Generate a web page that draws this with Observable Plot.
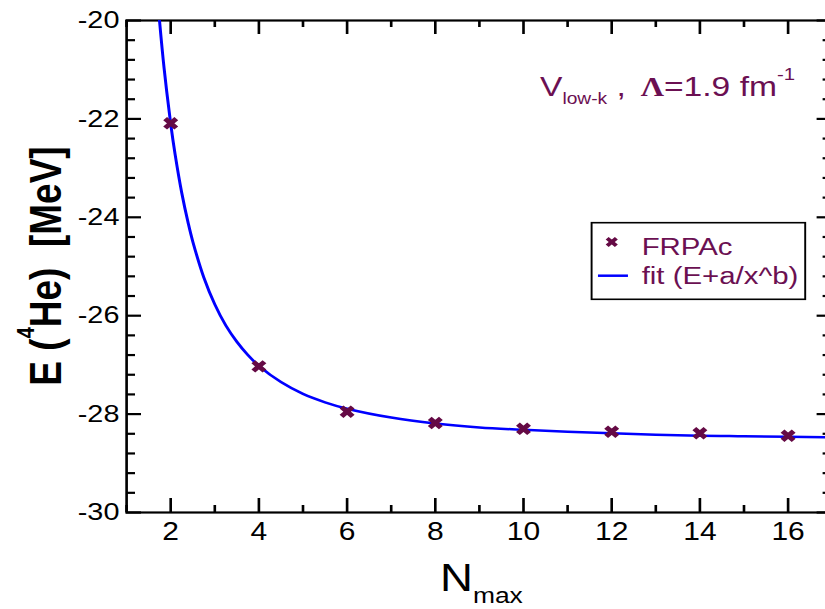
<!DOCTYPE html>
<html>
<head>
<meta charset="utf-8">
<script src="https://cdn.jsdelivr.net/npm/d3@7"></script>
<script src="https://cdn.jsdelivr.net/npm/@observablehq/plot@0.6"></script>
<style>
  html, body { margin: 0; padding: 0; background: white; overflow: hidden; }
  #chart svg { display: block; transform: scaleX(1.2); transform-origin: 0 0; max-width: none; }
</style>
</head>
<body>
<div id="chart"></div>
<script>
// FRPAc data points (N_max, E in MeV)
const nmax = [2, 4, 6, 8, 10, 12, 14, 16];
const energy = [-22.09, -27.03, -27.95, -28.18, -28.30, -28.36, -28.39, -28.44];

const fitX = [1.745, 1.85, 2, 2.1, 2.25, 2.4, 2.5, 2.75, 3, 3.25, 3.5, 3.75, 4, 4.5, 5, 5.5, 6, 7, 8, 9, 10, 11, 12, 13, 14, 15, 16, 17];
const fitY = [-19.99, -20.97, -22.10, -22.72, -23.50, -24.13, -24.49, -25.22, -25.77, -26.20, -26.53, -26.80, -27.02, -27.35, -27.59, -27.76, -27.89, -28.07, -28.19, -28.27, -28.32, -28.36, -28.39, -28.42, -28.44, -28.45, -28.46, -28.47];

// tick labels
const xTicks = [2, 4, 6, 8, 10, 12, 14, 16];
const xMinor = [1, 3, 5, 7, 9, 11, 13, 15, 17];
const yTicks = [-30, -28, -26, -24, -22, -20];
const yMinor = [-29.6, -29.2, -28.8, -28.4, -27.6, -27.2, -26.8, -26.4, -25.6, -25.2, -24.8, -24.4, -23.6, -23.2, -22.8, -22.4, -21.6, -21.2, -20.8, -20.4];

const points = nmax.map((x, i) => ({x, y: energy[i]}));
const fit = fitX.map((x, i) => ({x, y: fitY[i]}));

const W = 696, H = 609, mL = 105, mR = 3, mT = 20, mB = 97;
const fw = W - mL - mR, fh = H - mT - mB;
const maroon = "#650a45";
const textMaroon = "#6b1052";

const chart = Plot.plot({
  width: W, height: H,
  marginLeft: mL, marginRight: mR, marginTop: mT, marginBottom: mB,
  x: {domain: [1, 17], label: null},
  y: {domain: [-30, -20], label: null},
  style: {fontFamily: "Liberation Sans, Arial, sans-serif", background: "white", color: "black"},
  marks: [
    // inward ticks, bottom & top
    Plot.tickX(xTicks, {x: d => d, insetTop: fh - 14, stroke: "black", strokeWidth: 2.2}),
    Plot.tickX(xTicks, {x: d => d, insetBottom: fh - 14, stroke: "black", strokeWidth: 2.2}),
    Plot.tickX(xMinor, {x: d => d, insetTop: fh - 7, stroke: "black", strokeWidth: 2.2}),
    Plot.tickX(xMinor, {x: d => d, insetBottom: fh - 7, stroke: "black", strokeWidth: 2.2}),
    // inward ticks, left & right
    Plot.tickY(yTicks, {y: d => d, insetRight: fw - 12.5, stroke: "black", strokeWidth: 2.2}),
    Plot.tickY(yTicks, {y: d => d, insetLeft: fw - 12.5, stroke: "black", strokeWidth: 2.2}),
    Plot.tickY(yMinor, {y: d => d, insetRight: fw - 7.5, stroke: "black", strokeWidth: 2.2}),
    Plot.tickY(yMinor, {y: d => d, insetLeft: fw - 7.5, stroke: "black", strokeWidth: 2.2}),
    Plot.frame({stroke: "black", strokeWidth: 2.2}),
    Plot.axisX(xTicks, {anchor: "bottom", tickSize: 0, tickPadding: 10, fontSize: 25, tickFormat: d => String(d), label: null, stroke: "black", strokeWidth: 0.5}),
    Plot.axisY(yTicks, {anchor: "left", tickSize: 0, tickPadding: 6, fontSize: 24, tickFormat: d => String(d), label: null, stroke: "black", strokeWidth: 0.5}),
    Plot.line(fit, {x: "x", y: "y", stroke: "#0000ff", strokeWidth: 2.5, curve: "catmull-rom", clip: true}),
    Plot.dot(points, {x: "x", y: "y", symbol: "times", r: 4.3, stroke: maroon, strokeWidth: 4.5})
  ]
});

document.getElementById("chart").appendChild(chart);

const svg = d3.select(chart);
const ff = "Liberation Sans, Arial, sans-serif";

// Y axis label: E (4He) [MeV]
const yl = svg.append("text")
  .attr("transform", "translate(50.5,266) rotate(-90)")
  .attr("text-anchor", "middle")
  .attr("font-family", ff).attr("font-size", 37).attr("font-weight", "bold").attr("fill", "black");
yl.append("tspan").text("E (");
yl.append("tspan").attr("font-size", 20).attr("dy", -22).text("4");
yl.append("tspan").attr("dy", 22).text("He)  [MeV]");

// X axis label: N_max
const xl = svg.append("text")
  .attr("x", 366.7).attr("y", 591)
  .attr("text-anchor", "start")
  .attr("font-family", ff).attr("font-size", 38).attr("fill", "black");
xl.append("tspan").text("N");
xl.append("tspan").attr("font-size", 22).attr("dy", 12).text("max");

// annotation
const a1 = svg.append("text")
  .attr("x", 450).attr("y", 96)
  .attr("text-anchor", "start")
  .attr("font-family", ff).attr("font-size", 28).attr("fill", textMaroon);
a1.append("tspan").text("V");
a1.append("tspan").attr("font-size", 16).attr("dy", 8).text("low-k");
a1.append("tspan").attr("dy", -8).attr("font-size", 28).text(" ,");

const a2 = svg.append("text")
  .attr("x", 534).attr("y", 96)
  .attr("text-anchor", "start")
  .attr("font-family", ff).attr("font-size", 28).attr("fill", textMaroon);
a2.append("tspan").attr("font-family", "Liberation Serif, serif").attr("font-weight", "bold").attr("font-size", 27).text("Λ");
a2.append("tspan").text("=1.9 fm");
a2.append("tspan").attr("font-size", 17).attr("dy", -16).text("-1");

// legend
const lg = svg.append("g").attr("text-anchor", "start");
lg.append("rect").attr("x", 493).attr("y", 222.7).attr("width", 178).attr("height", 76.6)
  .attr("fill", "white").attr("stroke", "black").attr("stroke-width", 1.6);
lg.append("path")
  .attr("d", d3.symbol(d3.symbolTimes, 40)())
  .attr("transform", "translate(509.8,242)")
  .attr("fill", "none").attr("stroke", maroon).attr("stroke-width", 3.5);
lg.append("text").attr("x", 534.7).attr("y", 255)
  .attr("font-family", ff).attr("font-size", 24.5).attr("fill", textMaroon).text("FRPAc");
lg.append("line").attr("x1", 498.3).attr("x2", 523.3).attr("y1", 275.7).attr("y2", 275.7)
  .attr("stroke", "#0000ff").attr("stroke-width", 2.5);
lg.append("text").attr("x", 534.7).attr("y", 284)
  .attr("font-family", ff).attr("font-size", 24.5).attr("fill", textMaroon).text("fit (E+a/x^b)");
</script>
</body>
</html>
